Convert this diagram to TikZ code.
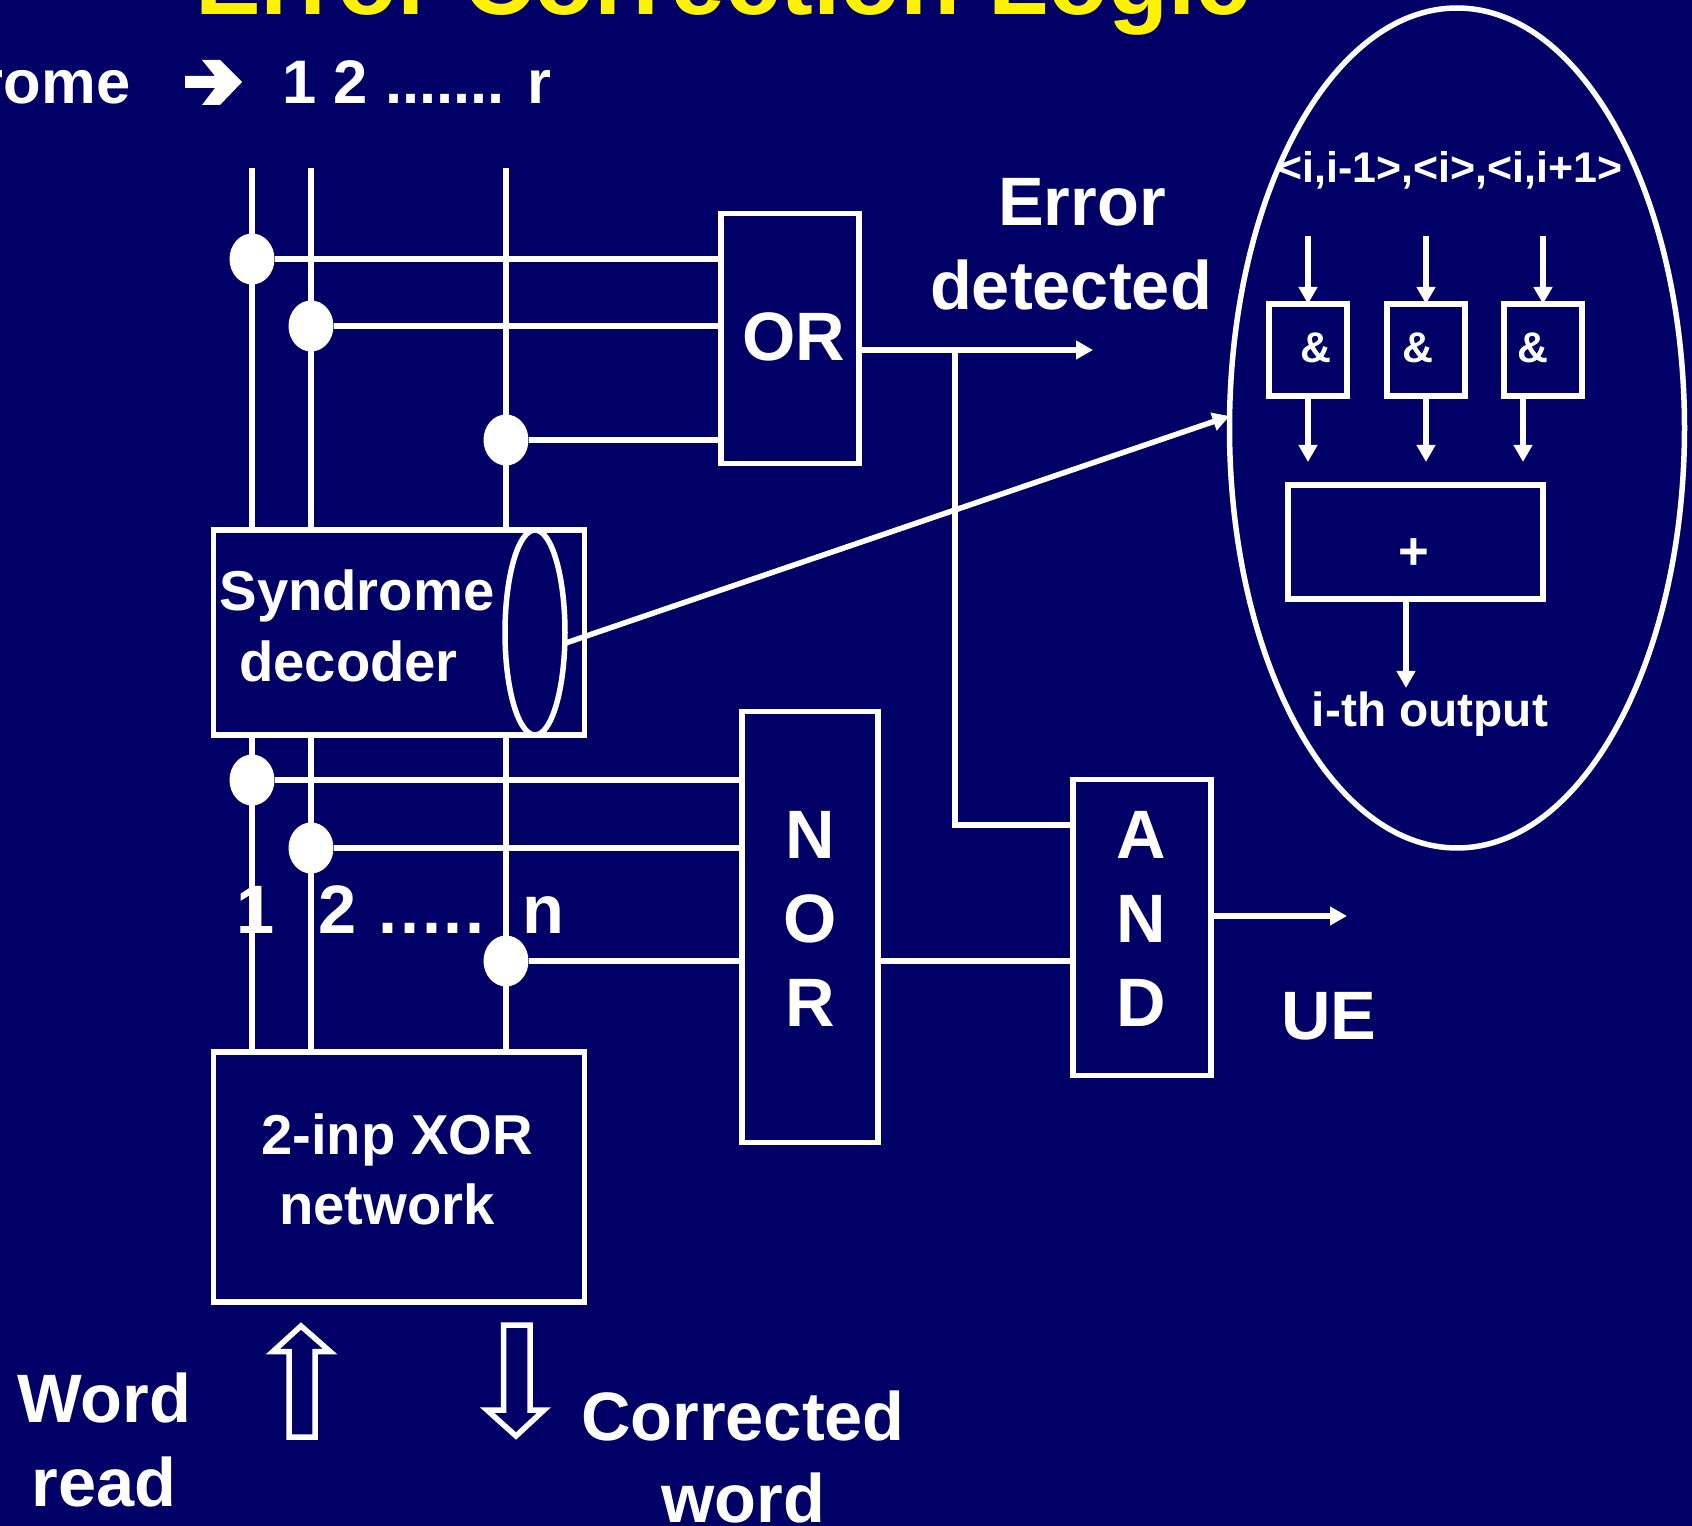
\documentclass[tikz,border=0pt]{standalone}
\usepackage{fontspec}
\setmainfont{Liberation Sans}
\usepackage{xcolor}
\usetikzlibrary{positioning}
\usetikzlibrary{arrows.meta}
\usetikzlibrary{shapes.geometric}
\definecolor{slideblue}{RGB}{0,0,102}

\begin{document}
\begin{tikzpicture}[x=0.1mm,y=-0.1mm,line width=0.55mm,white,
    lab/.style={text=white,inner sep=0,anchor=base,font=\fontsize{19.5}{22}\selectfont\bfseries},
    rowlab/.style={lab,font=\fontsize{17.5}{20}\selectfont\bfseries},
    midlab/.style={lab,font=\fontsize{16}{18}\selectfont\bfseries},
    smalllab/.style={lab,font=\fontsize{13.6}{15}\selectfont\bfseries},
    tinylab/.style={lab,font=\fontsize{12.2}{14}\selectfont\bfseries},
    blockbox/.style={draw=white,inner sep=0,outer sep=0},
    tap/.style={ellipse,fill=white,inner sep=0,outer sep=0,minimum width=4.5mm,minimum height=5.1mm},
    arr/.style={-{Triangle[length=1.7mm,width=1.8mm]}}]
    \clip (0,0) rectangle (1692,1526);
    \fill[slideblue] (0,0) rectangle (1692,1526);

    \node[lab,text=yellow,font=\fontsize{28}{30}\selectfont\bfseries] (title) at (723,15) {Error Correction Logic};
    \node[rowlab,anchor=base east] (synA) at (133,104) {Syndrome};
    \fill (185,76) -- (215,76) -- (202,60) -- (220,60) -- (242,82) -- (220,105) -- (202,105) -- (215,88) -- (185,88) -- cycle;
    \node[rowlab,anchor=base west] (synC) at (280,104) {1 2 ....... r};

    \node[blockbox,minimum width=13.8mm,minimum height=25mm] (orb) at (790,338.5) {};
    \node[blockbox,minimum width=37.1mm,minimum height=20.5mm] (syn) at (399,632.5) {};
    \node[blockbox,minimum width=13.6mm,minimum height=43.1mm] (nor) at (810,927) {};
    \node[blockbox,minimum width=13.8mm,minimum height=29.6mm] (andb) at (1142,927.5) {};
    \node[blockbox,minimum width=37.1mm,minimum height=25mm] (xor) at (399,1177) {};
    \node[blockbox,ellipse,minimum width=6mm,minimum height=20.5mm] (disk) at (535,632.5) {};

    \node[blockbox,ellipse,minimum width=45.5mm,minimum height=84mm] (cloud) at (1457,428) {};
    \node[blockbox,minimum width=7.8mm,minimum height=9.2mm] (a1) at (1308,350) {};
    \node[blockbox,minimum width=7.8mm,minimum height=9.2mm] (a2) at (1426,350) {};
    \node[blockbox,minimum width=7.8mm,minimum height=9.2mm] (a3) at (1543,350) {};
    \node[blockbox,minimum width=25.5mm,minimum height=11.4mm] (sum) at (1415.5,542) {};

    \coordinate (t1) at (252,168);
    \coordinate (t2) at (311,168);
    \coordinate (t3) at (506,168);

    \node[tap] (d1) at (252,259) {};
    \node[tap] (d2) at (311,326) {};
    \node[tap] (d3) at (506,440) {};
    \node[tap] (e1) at (252,780) {};
    \node[tap] (e2) at (311,848) {};
    \node[tap] (e3) at (506,961) {};

    \draw (t1) -- (t1 |- syn.north);
    \draw (t2) -- (t2 |- syn.north);
    \draw (t3) -- (t3 |- syn.north);
    \draw (syn.south -| t1) -- (xor.north -| t1);
    \draw (syn.south -| t2) -- (xor.north -| t2);
    \draw (syn.south -| t3) -- (xor.north -| t3);

    \draw (d1) -- (d1 -| orb.west);
    \draw (d2) -- (d2 -| orb.west);
    \draw (d3) -- (d3 -| orb.west);
    \draw (e1) -- (e1 -| nor.west);
    \draw (e2) -- (e2 -| nor.west);
    \draw (e3) -- (e3 -| nor.west);

    \coordinate (errEnd) at (1093,350);
    \coordinate (branch) at (955,350);
    \coordinate (ueEnd) at (1347,916);
    \draw[arr] (orb.east |- errEnd) -- (errEnd);
    \draw (branch) -- (branch |- 0,825) -- (andb.west |- 0,825);
    \draw (nor.east |- e3) -- (andb.west |- e3);
    \draw[arr] (andb.east |- ueEnd) -- (ueEnd);
    \draw[arr] (disk.340) -- (cloud.177.5);

    \coordinate (in1) at (1308,236);
    \coordinate (in2) at (1426,236);
    \coordinate (in3) at (1543,236);
    \coordinate (out1) at (1308,462);
    \coordinate (out2) at (1426,462);
    \coordinate (out3) at (1523,462);
    \coordinate (out4) at (1406,688);
    \draw[arr] (in1) -- (a1.north);
    \draw[arr] (in2) -- (a2.north);
    \draw[arr] (in3) -- (a3.north);
    \draw[arr] (a1.south) -- (out1);
    \draw[arr] (a2.south) -- (out2);
    \draw[arr] (a3.south -| out3) -- (out3);
    \draw[arr] (sum.south -| out4) -- (out4);

    \draw (301,1326) -- (330,1351.5) -- (315,1351.5) -- (315,1437) -- (289,1437) -- (289,1351.5) -- (273,1351.5) -- cycle;
    \draw (503.5,1325) -- (530,1325) -- (530,1410) -- (544,1410) -- (516,1436) -- (487,1410) -- (503.5,1410) -- cycle;

    \node[lab] (orT) at (794,361) {OR};
    \node[lab] (errT) at (1082,226) {Error};
    \node[lab] (detT) at (1071,310) {detected};
    \node[midlab] (synT) at (357,611) {Syndrome};
    \node[midlab] (decT) at (348.5,682) {decoder};
    \node[midlab] (xorT) at (397,1154) {2-inp XOR};
    \node[midlab] (netT) at (387,1224) {network};

    \node[lab] (n1) at (810,859) {N};
    \node[lab] (n2) at (810,943) {O};
    \node[lab] (n3) at (810,1026) {R};
    \node[lab] (m1) at (1141,859) {A};
    \node[lab] (m2) at (1141,943) {N};
    \node[lab] (m3) at (1141,1026) {D};
    \node[lab] (ueT) at (1329,1039) {UE};

    \node[lab,anchor=base west] (b1) at (234,934) {1};
    \node[lab,anchor=base west] (b2) at (316,934) {\addfontfeature{LetterSpace=4}2 .....};
    \node[lab,anchor=base west] (bn) at (520,934) {n};

    \node[lab] (wordA) at (104,1422) {Word};
    \node[lab] (wordB) at (104,1506) {read};
    \node[lab] (corrA) at (743,1440) {Corrected};
    \node[lab] (corrB) at (743,1522) {word};

    \node[tinylab] (pairs) at (1450,183) {<i,i-1>,<i>,<i,i+1>};
    \node[tinylab] (s1) at (1316,363) {\&};
    \node[tinylab] (s2) at (1418,363) {\&};
    \node[tinylab] (s3) at (1533,363) {\&};
    \node[lab,font=\fontsize{15}{16}\selectfont\bfseries] (plus) at (1414,570) {+};
    \node[smalllab] (outT) at (1430,727) {i-th output};
\end{tikzpicture}
\end{document}
